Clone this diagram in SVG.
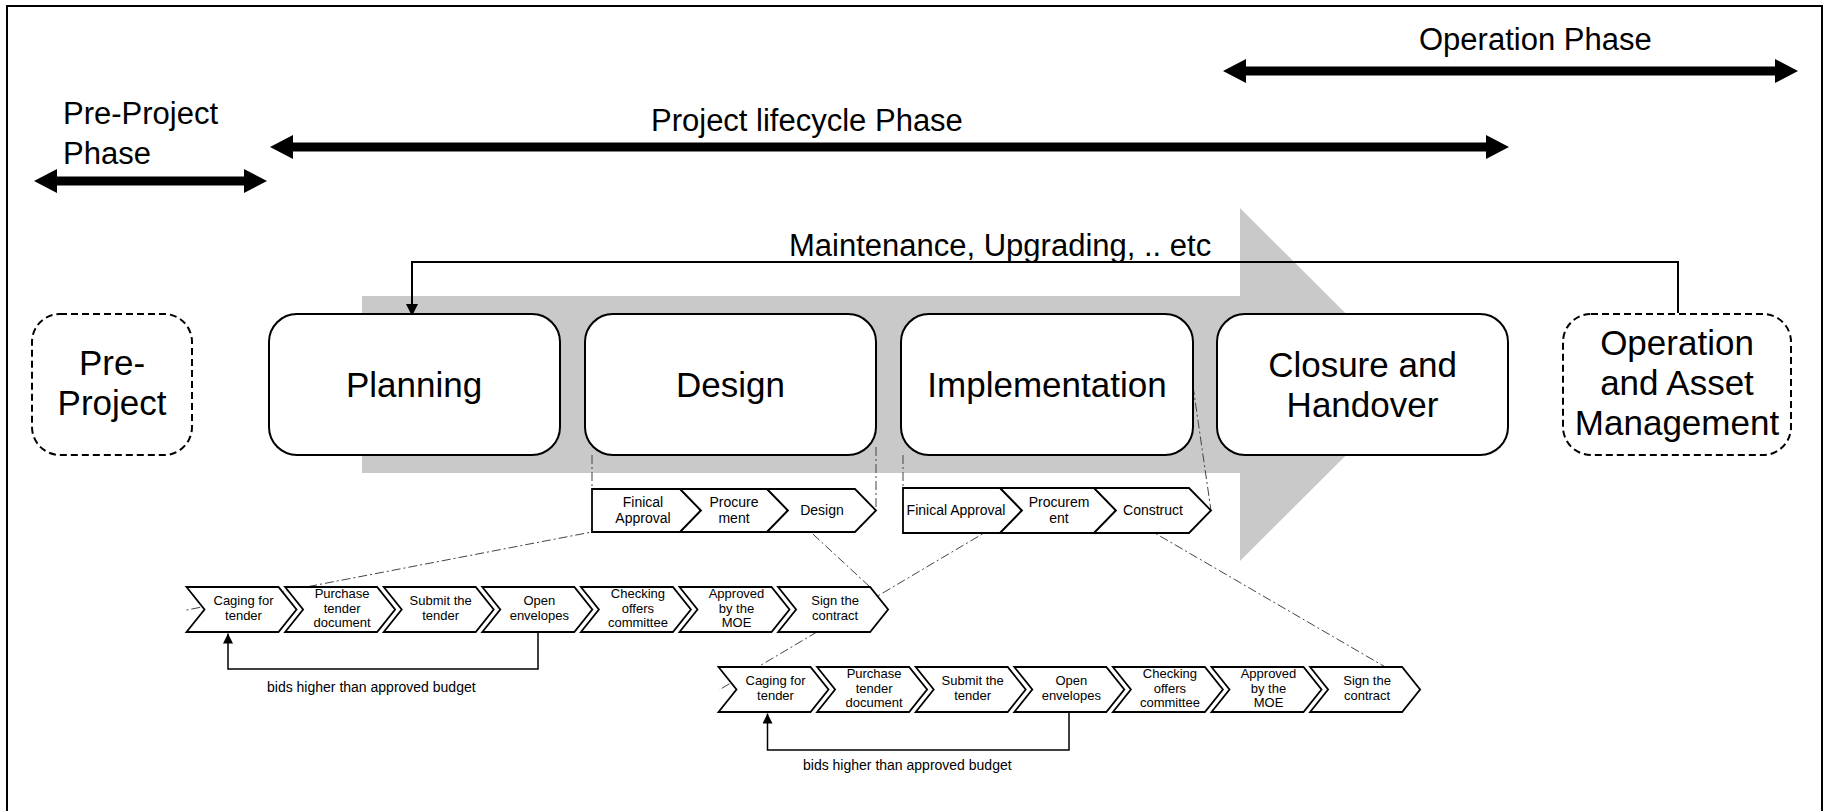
<svg xmlns="http://www.w3.org/2000/svg" width="1832" height="811" viewBox="0 0 1832 811">
<style>
text{font-family:"Liberation Sans",Arial,sans-serif;fill:#000}
.lbl{font-size:31px}
.big{font-size:35px;text-anchor:middle}
.sub{font-size:14px;text-anchor:middle}
.ch{font-size:13px;text-anchor:middle}
.bid{font-size:14px}
.box{fill:#fff;stroke:#000;stroke-width:2}
.dbox{fill:#fff;stroke:#000;stroke-width:2;stroke-dasharray:7 4}
.chev{fill:#fff;stroke:#000;stroke-width:1.8;stroke-linejoin:miter}
.dd{fill:none;stroke:#444;stroke-width:1;stroke-dasharray:9 3 2 3}
.ln{fill:none;stroke:#000;stroke-width:2}
.lp{fill:none;stroke:#000;stroke-width:1.5}
</style>
<defs>
<marker id="ah" viewBox="0 0 10 10" refX="10" refY="5" markerWidth="12" markerHeight="12" markerUnits="userSpaceOnUse" orient="auto"><path d="M0,0 L10,5 L0,10 z" fill="#000"/></marker>
<marker id="ahs" viewBox="0 0 10 10" refX="10" refY="5" markerWidth="10" markerHeight="10" markerUnits="userSpaceOnUse" orient="auto"><path d="M0,0 L10,5 L0,10 z" fill="#000"/></marker>
<polygon id="chv" points="0,0 92,0 110,22.5 92,45 0,45 18,22.5"/>
</defs>
<rect width="1832" height="811" fill="#fff"/>
<path id="frame" d="M7,811 V6 H1822 V811" fill="none" stroke="#000" stroke-width="2"/>

<g id="phase-arrows">
<g id="pre-project-phase">
<polygon points="34,181 57,169 57,176.5 244,176.5 244,169 267,181 244,193 244,185.5 57,185.5 57,193" fill="#000"/>
<text class="lbl" x="63" y="124">Pre-Project</text>
<text class="lbl" x="63" y="164">Phase</text>
</g>
<g id="project-lifecycle-phase">
<polygon points="270,147 293,135 293,142.5 1486,142.5 1486,135 1509,147 1486,159 1486,151.5 293,151.5 293,159" fill="#000"/>
<text class="lbl" x="651" y="131">Project lifecycle Phase</text>
</g>
<g id="operation-phase">
<polygon points="1223,71 1246,59 1246,66.5 1775,66.5 1775,59 1798,71 1775,83 1775,75.5 1246,75.5 1246,83" fill="#000"/>
<text class="lbl" x="1419" y="50">Operation Phase</text>
</g>
</g>

<g id="lifecycle-arrow">
<polygon points="362,296 1240,296 1240,208 1417,384.5 1240,561 1240,473 362,473" fill="#c9c9c9"/>
</g>

<g id="connectors">
<path class="ln" d="M1678,313 V262 H412 V316" marker-end="url(#ah)"/>
<text class="lbl" x="789" y="256">Maintenance, Upgrading, .. etc</text>
<path class="dd" d="M592,455 V489"/>
<path class="dd" d="M876,447 V511"/>
<path class="dd" d="M903,455 V488"/>
<path class="dd" d="M1193,386 L1211,510.5"/>
<path class="dd" d="M701,511 L186.5,610"/>
<path class="dd" d="M788,511 L870,587"/>
<path class="dd" d="M1022,510.5 L719,690"/>
<path class="dd" d="M1116,510.5 L1418,686"/>
<path class="lp" d="M538,632 V669 H228 V633.5" marker-end="url(#ahs)"/>
<path class="lp" d="M1069,712 V750 H767.5 V713.5" marker-end="url(#ahs)"/>
</g>

<g id="pre-project">
<rect class="dbox" x="32" y="314" width="160" height="141" rx="28"/>
<text class="big" x="112" y="375">Pre-</text>
<text class="big" x="112" y="415">Project</text>
</g>
<g id="planning">
<rect class="box" x="269" y="314" width="291" height="141" rx="28"/>
<text class="big" x="414" y="397">Planning</text>
</g>
<g id="design">
<rect class="box" x="585" y="314" width="291" height="141" rx="28"/>
<text class="big" x="730.5" y="397">Design</text>
</g>
<g id="implementation">
<rect class="box" x="901" y="314" width="292" height="141" rx="28"/>
<text class="big" x="1047" y="397">Implementation</text>
</g>
<g id="closure">
<rect class="box" x="1217" y="314" width="291" height="141" rx="28"/>
<text class="big" x="1362.5" y="377">Closure and</text>
<text class="big" x="1362.5" y="417">Handover</text>
</g>
<g id="operation">
<rect class="dbox" x="1563" y="314" width="228" height="141" rx="28"/>
<text class="big" x="1677" y="355">Operation</text>
<text class="big" x="1677" y="395">and Asset</text>
<text class="big" x="1677" y="435">Management</text>
</g>

<g id="design-steps">
<g id="d-finical">
<polygon class="chev" points="592,489 680,489 701,510.5 680,532 592,532"/>
<text class="sub" x="643" y="507">Finical</text>
<text class="sub" x="643" y="523">Approval</text>
</g>
<g id="d-procurement">
<polygon class="chev" points="680,489 767,489 788,510.5 767,532 680,532 701,510.5"/>
<text class="sub" x="734" y="507">Procure</text>
<text class="sub" x="734" y="523">ment</text>
</g>
<g id="d-design">
<polygon class="chev" points="767,489 855,489 876,510.5 855,532 767,532 788,510.5"/>
<text class="sub" x="822" y="515">Design</text>
</g>
</g>

<g id="implementation-steps">
<g id="i-finical">
<polygon class="chev" points="903,488 1000,488 1022,510.5 1000,533 903,533"/>
<text class="sub" x="956" y="515">Finical Approval</text>
</g>
<g id="i-procurement">
<polygon class="chev" points="1000,488 1094,488 1116,510.5 1094,533 1000,533 1022,510.5"/>
<text class="sub" x="1059" y="507">Procurem</text>
<text class="sub" x="1059" y="523">ent</text>
</g>
<g id="i-construct">
<polygon class="chev" points="1094,488 1189,488 1211,510.5 1189,533 1094,533 1116,510.5"/>
<text class="sub" x="1153" y="515">Construct</text>
</g>
</g>

<g id="tender-row-1">
<g id="t1-caging"><use href="#chv" class="chev" x="186.5" y="587"/>
<text class="ch" x="243.5" y="605">Caging for</text><text class="ch" x="243.5" y="619.5">tender</text></g>
<g id="t1-purchase"><use href="#chv" class="chev" x="285.1" y="587"/>
<text class="ch" x="342.1" y="598">Purchase</text><text class="ch" x="342.1" y="612.5">tender</text><text class="ch" x="342.1" y="627">document</text></g>
<g id="t1-submit"><use href="#chv" class="chev" x="383.7" y="587"/>
<text class="ch" x="440.7" y="605">Submit the</text><text class="ch" x="440.7" y="619.5">tender</text></g>
<g id="t1-open"><use href="#chv" class="chev" x="482.3" y="587"/>
<text class="ch" x="539.3" y="605">Open</text><text class="ch" x="539.3" y="619.5">envelopes</text></g>
<g id="t1-checking"><use href="#chv" class="chev" x="580.9" y="587"/>
<text class="ch" x="637.9" y="598">Checking</text><text class="ch" x="637.9" y="612.5">offers</text><text class="ch" x="637.9" y="627">committee</text></g>
<g id="t1-approved"><use href="#chv" class="chev" x="679.5" y="587"/>
<text class="ch" x="736.5" y="598">Approved</text><text class="ch" x="736.5" y="612.5">by the</text><text class="ch" x="736.5" y="627">MOE</text></g>
<g id="t1-sign"><use href="#chv" class="chev" x="778.1" y="587"/>
<text class="ch" x="835.1" y="605">Sign the</text><text class="ch" x="835.1" y="619.5">contract</text></g>
<text id="t1-bids" class="bid" x="267" y="692">bids higher than approved budget</text>
</g>

<g id="tender-row-2">
<g id="t2-caging"><use href="#chv" class="chev" x="718.5" y="667"/>
<text class="ch" x="775.5" y="685">Caging for</text><text class="ch" x="775.5" y="699.5">tender</text></g>
<g id="t2-purchase"><use href="#chv" class="chev" x="817.1" y="667"/>
<text class="ch" x="874.1" y="678">Purchase</text><text class="ch" x="874.1" y="692.5">tender</text><text class="ch" x="874.1" y="707">document</text></g>
<g id="t2-submit"><use href="#chv" class="chev" x="915.7" y="667"/>
<text class="ch" x="972.7" y="685">Submit the</text><text class="ch" x="972.7" y="699.5">tender</text></g>
<g id="t2-open"><use href="#chv" class="chev" x="1014.3" y="667"/>
<text class="ch" x="1071.3" y="685">Open</text><text class="ch" x="1071.3" y="699.5">envelopes</text></g>
<g id="t2-checking"><use href="#chv" class="chev" x="1112.9" y="667"/>
<text class="ch" x="1169.9" y="678">Checking</text><text class="ch" x="1169.9" y="692.5">offers</text><text class="ch" x="1169.9" y="707">committee</text></g>
<g id="t2-approved"><use href="#chv" class="chev" x="1211.5" y="667"/>
<text class="ch" x="1268.5" y="678">Approved</text><text class="ch" x="1268.5" y="692.5">by the</text><text class="ch" x="1268.5" y="707">MOE</text></g>
<g id="t2-sign"><use href="#chv" class="chev" x="1310.1" y="667"/>
<text class="ch" x="1367.1" y="685">Sign the</text><text class="ch" x="1367.1" y="699.5">contract</text></g>
<text id="t2-bids" class="bid" x="803" y="770">bids higher than approved budget</text>
</g>
</svg>
